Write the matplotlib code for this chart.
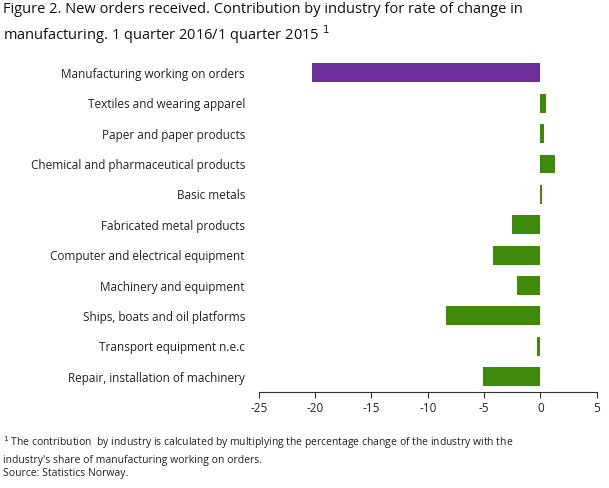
import matplotlib
matplotlib.use("Agg")
import matplotlib.pyplot as plt

plt.rcParams['font.family'] = ['Open Sans', 'DejaVu Sans']

categories = ["Manufacturing working on orders", "Textiles and wearing apparel",
              "Paper and paper products", "Chemical and pharmaceutical products",
              "Basic metals", "Fabricated metal products",
              "Computer and electrical equipment", "Machinery and equipment",
              "Ships, boats and oil platforms", "Transport equipment n.e.c",
              "Repair, installation of machinery"]
values = [-20.3, 0.5, 0.3, 1.3, 0.15, -2.5, -4.2, -2.1, -8.4, -0.35, -5.1]
colors = ["#6e2f9c"] + ["#3f8a0a"] * 10
xticks = [-25, -20, -15, -10, -5, 0, 5]

fig = plt.figure(figsize=(6.09, 4.88), dpi=100)
ax = fig.add_axes([0.425, 0.197, 0.555, 0.685])
y = list(range(len(categories)))
ax.barh(y, values, color=colors, height=0.62)
ax.set_yticks(y)
ax.set_yticklabels(categories, fontsize=8.5, color="#222222")
ax.invert_yaxis()
ax.set_ylim(len(categories) - 0.5, -0.5)
ax.set_xlim(-25, 5)
ax.set_xticks(xticks)
ax.set_xticklabels([str(t) for t in xticks], fontsize=8.5, color="#222222")
for s in ["top", "right", "left"]:
    ax.spines[s].set_visible(False)
ax.spines["bottom"].set_color("#333333")
ax.tick_params(axis="y", length=0, pad=10)
ax.tick_params(axis="x", length=4, color="#333333")

fig.text(0.005, 0.995, "Figure 2. New orders received. Contribution by industry for rate of change in\nmanufacturing. 1 quarter 2016/1 quarter 2015 $^{1}$",
         fontsize=10.5, va="top", ha="left", color="#111111", linespacing=1.35)
fig.text(0.005, 0.11, "$^{1}$ The contribution  by industry is calculated by multiplying the percentage change of the industry with the\nindustry's share of manufacturing working on orders.",
         fontsize=7.5, va="top", ha="left", color="#222222", linespacing=1.5)
fig.text(0.005, 0.04, "Source: Statistics Norway.", fontsize=7.5, va="top", ha="left", color="#222222")

fig.savefig("out.png", dpi=100)
